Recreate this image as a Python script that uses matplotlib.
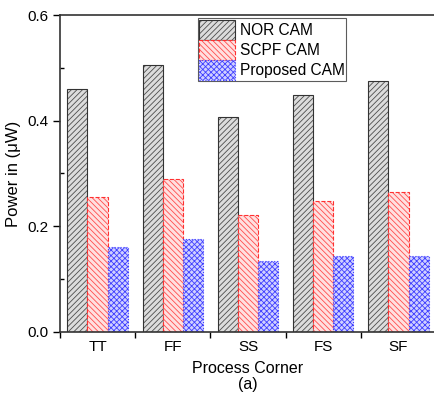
import matplotlib
matplotlib.use("Agg")
import matplotlib.pyplot as plt
import numpy as np
from matplotlib.ticker import FixedLocator, MultipleLocator

plt.rcParams['font.family'] = ['Liberation Sans', 'DejaVu Sans']
plt.rcParams['hatch.linewidth'] = 0.6

categories = ["TT", "FF", "SS", "FS", "SF"]
nor_cam = [0.460, 0.506, 0.406, 0.449, 0.475]
scpf_cam = [0.255, 0.289, 0.221, 0.247, 0.264]
proposed_cam = [0.160, 0.175, 0.134, 0.143, 0.144]
series_names = ["NOR CAM", "SCPF CAM", "Proposed CAM"]

fig = plt.figure(figsize=(4.34, 3.96), dpi=100)
ax = fig.add_axes([0.138, 0.162, 0.867, 0.800])

x = np.arange(len(categories))
w = 0.267

b1 = ax.bar(x - w, nor_cam, w, facecolor='#dcdcdc', edgecolor='#333333',
            hatch='//////', linewidth=0.8, label=series_names[0])
b2 = ax.bar(x, scpf_cam, w, facecolor='#ffe0e0', edgecolor='#ff3030',
            hatch='\\\\\\\\\\\\', linewidth=0.8, linestyle='--', label=series_names[1])
b3 = ax.bar(x + w, proposed_cam, w, facecolor='#d0d0ff', edgecolor='#4040ff',
            hatch='xxxxxx', linewidth=0.8, linestyle=':', label=series_names[2])
for p in b1:
    p._hatch_color = (0.3, 0.3, 0.3, 1)
for p in b2:
    p._hatch_color = (1.0, 0.3, 0.3, 1)
for p in b3:
    p._hatch_color = (0.25, 0.25, 1.0, 1)

ax.set_xlim(-0.5, len(categories) - 0.5)
ax.set_ylim(0, 0.6)

ax.set_xticks(x)
ax.set_xticklabels(categories, fontsize=11)
ax.tick_params(axis='x', which='major', length=0, pad=6)
ax.xaxis.set_minor_locator(FixedLocator(np.arange(-0.5, len(categories), 1.0)))
ax.tick_params(axis='x', which='minor', length=4, direction='out', width=1)

ax.set_yticks([0.0, 0.2, 0.4, 0.6])
ax.set_yticklabels(["0.0", "0.2", "0.4", "0.6"], fontsize=11)
ax.yaxis.set_minor_locator(MultipleLocator(0.1))
ax.tick_params(axis='y', which='major', length=5, direction='out', width=1)
ax.tick_params(axis='y', which='minor', length=3, direction='in', width=1)

for s in ax.spines.values():
    s.set_linewidth(1.2)
    s.set_color('#333333')

ax.set_ylabel("Power in (\u03bcW)", fontsize=12, labelpad=4)
ax.set_xlabel("Process Corner\n(a)", fontsize=11.5, labelpad=5, linespacing=1.05)

leg = ax.legend(loc='upper left', bbox_to_anchor=(0.366, 0.99), fontsize=11.2,
                frameon=True, fancybox=False, edgecolor='#333333',
                handlelength=2.3, handleheight=1.6, labelspacing=0.0,
                handletextpad=0.3, borderpad=0.1, borderaxespad=0.0)
leg.get_frame().set_linewidth(0.8)

fig.savefig("out.png", dpi=100)
